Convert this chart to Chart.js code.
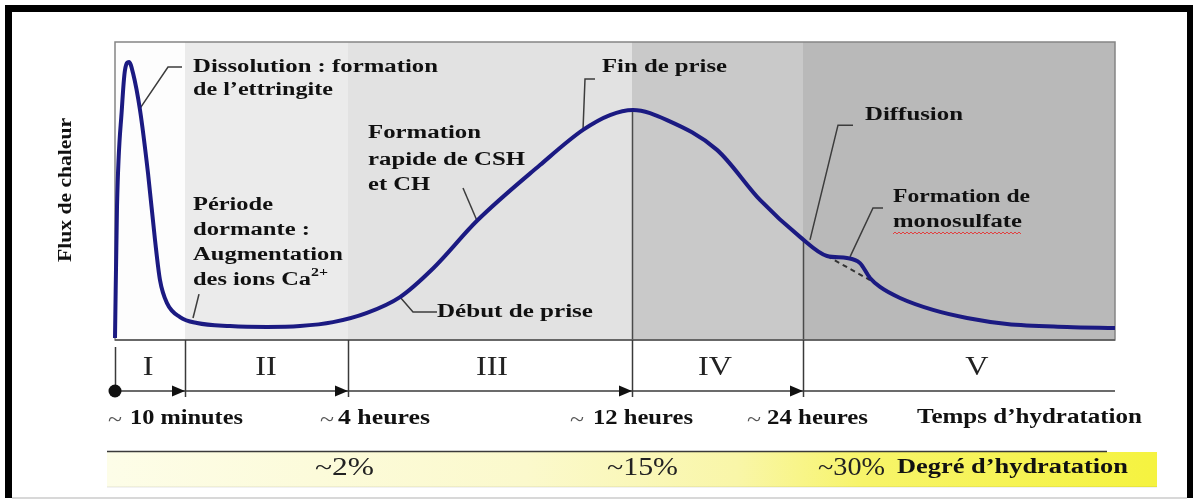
<!DOCTYPE html>
<html>
<head>
<meta charset="utf-8">
<title>Flux de chaleur - hydratation du ciment</title>
<script src="https://cdn.jsdelivr.net/npm/chart.js@4.4.0/dist/chart.umd.min.js"></script>
<style>
  html, body { margin: 0; padding: 0; background: #fff; overflow: hidden; }
  #wrap { position: relative; width: 1196px; height: 499px; }
</style>
</head>
<body>
<div id="wrap"><canvas id="heatChart" width="1196" height="499"></canvas></div>
<script>
// Heat flux curve (x: position along the time axis, 0..1000 ; y: relative flux, 0..100)
const fluxX = [0, 2, 7, 10, 14, 18, 25, 33, 40, 45, 52, 65, 82, 115, 152, 185, 218, 252, 285, 318,
  362, 425, 468, 495, 518, 552, 602, 645, 685, 712, 732, 745, 755, 765, 785, 818, 852, 892, 952, 1000];
const fluxY = [0.7, 44.6, 78.2, 90.6, 93.3, 89.6, 77.2, 56.0, 33.6, 20.1, 12.4, 7.7, 5.7, 4.7, 4.4, 4.7, 6.0, 9.1, 14.4, 24.0,
  40.0, 58.7, 70.5, 75.5, 77.2, 73.8, 63.8, 47.0, 34.6, 28.2, 27.5, 25.8, 20.8, 17.8, 14.1, 10.1, 7.4, 5.4, 4.4, 4.0];

// curve without the monosulfate bump (dashed)
const baseX = [712, 755];
const baseY = [28.2, 20.1];

// phases
const phaseEdges = [0, 70, 233, 517, 688, 1000];
const phaseLabels = ['I', 'II', 'III', 'IV', 'V'];
const phaseLabelX = [33, 151, 377, 600, 862];
const phaseColors = ['#fdfdfd', '#ebebeb', '#e2e2e2', '#c9c9c9', '#b9b9b9'];

// time and hydration degree labels
const timeLabels = ['10 minutes', '4 heures', '12 heures', '24 heures'];
const degreeLabels = ['~2%', '~15%', '~30%'];

// callout leader lines [x, y] in chart units
const leaders = [
  [[24, 77.2], [53, 91.6], [67, 91.6]],      // Dissolution
  [[78, 7.4], [84, 15.4]],                   // Periode dormante
  [[362, 40.0], [348, 51.0]],                // Formation rapide
  [[285, 14.4], [298, 9.4], [322, 9.4]],     // Debut de prise
  [[468, 70.5], [470, 87.6], [480, 87.6]],   // Fin de prise
  [[695, 33.6], [723, 72.1], [738, 72.1]],   // Diffusion
  [[735, 27.9], [758, 44.3], [768, 44.3]]    // Monosulfate
];

const SERIF = '"Liberation Serif", "Times New Roman", serif';

// text drawn stretched to a given width (the original picture is stretched horizontally)
function drawText(ctx, s, x, y, font, width, color) {
  ctx.save();
  ctx.font = font;
  ctx.fillStyle = color || '#111';
  ctx.textBaseline = 'middle';
  ctx.textAlign = 'left';
  const w = ctx.measureText(s).width;
  ctx.translate(x, y);
  if (width) ctx.scale(width / w, 1);
  ctx.fillText(s, 0, 0);
  ctx.restore();
}

const zonesPlugin = {
  id: 'zones',
  beforeDatasetsDraw(chart) {
    const { ctx, chartArea: a, scales: { x, y } } = chart;
    ctx.save();
    for (let i = 0; i < phaseLabels.length; i++) {
      const x0 = x.getPixelForValue(phaseEdges[i]);
      const x1 = x.getPixelForValue(phaseEdges[i + 1]);
      ctx.fillStyle = phaseColors[i];
      ctx.fillRect(x0, a.top, x1 - x0, a.bottom - a.top);
    }
    // dividers inside the plot (below the curve)
    ctx.strokeStyle = '#4a4a4a';
    ctx.lineWidth = 1.5;
    [[phaseEdges[3], 77], [phaseEdges[4], 33]].forEach(([v, top]) => {
      const px = Math.round(x.getPixelForValue(v)) + 0.5;
      ctx.beginPath();
      ctx.moveTo(px, y.getPixelForValue(top));
      ctx.lineTo(px, a.bottom);
      ctx.stroke();
    });
    // frame
    ctx.strokeStyle = '#858585';
    ctx.lineWidth = 1.5;
    ctx.strokeRect(a.left, a.top, a.right - a.left, a.bottom - a.top);
    ctx.strokeStyle = '#555';
    ctx.beginPath();
    ctx.moveTo(a.left, a.bottom);
    ctx.lineTo(a.right, a.bottom);
    ctx.stroke();
    ctx.restore();
  },
  afterDraw(chart) {
    const { ctx, chartArea: a, scales: { x } } = chart;
    ctx.save();

    // outer black frame
    ctx.fillStyle = '#000';
    ctx.fillRect(5, 5, 1188, 7);
    ctx.fillRect(5, 5, 7, 493);
    ctx.fillRect(1187, 5, 6, 493);
    ctx.fillStyle = '#d8d8d8';
    ctx.fillRect(12, 497, 1175, 2);

    // phase separators and time arrow
    const axisY = 391;
    ctx.strokeStyle = '#3a3a3a';
    ctx.lineWidth = 1.5;
    for (let i = 0; i < phaseEdges.length - 1; i++) {
      const px = Math.round(x.getPixelForValue(phaseEdges[i])) + 0.5;
      ctx.beginPath();
      ctx.moveTo(px, i === 0 ? a.bottom + 7 : a.bottom);
      ctx.lineTo(px, i === 0 ? axisY : axisY + 6);
      ctx.stroke();
    }
    ctx.beginPath();
    ctx.moveTo(x.getPixelForValue(0), axisY);
    ctx.lineTo(x.getPixelForValue(1000), axisY);
    ctx.stroke();
    ctx.fillStyle = '#111';
    for (let i = 1; i < phaseEdges.length - 1; i++) {
      const px = x.getPixelForValue(phaseEdges[i]);
      ctx.beginPath();
      ctx.moveTo(px, axisY);
      ctx.lineTo(px - 13, axisY - 5.5);
      ctx.lineTo(px - 13, axisY + 5.5);
      ctx.closePath();
      ctx.fill();
    }
    ctx.beginPath();
    ctx.arc(x.getPixelForValue(0), axisY, 6.5, 0, Math.PI * 2);
    ctx.fill();

    // roman phase labels
    phaseLabels.forEach((s, i) => {
      ctx.font = '28px ' + SERIF;
      const w = ctx.measureText(s).width * 1.15;
      drawText(ctx, s, x.getPixelForValue(phaseLabelX[i]) - w / 2, 368, '28px ' + SERIF, w, '#222');
    });

    // time labels
    const timePos = [[108, 130, 243], [320, 338, 430], [570, 593, 693], [747, 767, 868]];
    timeLabels.forEach((s, i) => {
      const [tx, lx, rx] = timePos[i];
      drawText(ctx, '~', tx, 421, '20px ' + SERIF, 14, '#555');
      drawText(ctx, s, lx, 419, 'bold 20px ' + SERIF, rx - lx);
    });
    drawText(ctx, 'Temps d\u2019hydratation', 917, 418, 'bold 20px ' + SERIF, 225);

    // hydration degree band
    const g = ctx.createLinearGradient(107, 0, 1157, 0);
    g.addColorStop(0, '#fdfde8');
    g.addColorStop(0.4, '#fbf9cc');
    g.addColorStop(0.6, '#f9f6a8');
    g.addColorStop(0.72, '#f7f46a');
    g.addColorStop(1, '#f5f340');
    ctx.fillStyle = g;
    ctx.fillRect(107, 452, 1050, 35);
    ctx.fillStyle = 'rgba(0,0,0,0.05)';
    ctx.fillRect(107, 486, 1050, 2);
    ctx.strokeStyle = '#3a3a3a';
    ctx.lineWidth = 1.5;
    ctx.beginPath();
    ctx.moveTo(107, 451.5);
    ctx.lineTo(1107, 451.5);
    ctx.stroke();
    const degPos = [[315, 374], [607, 678], [818, 885]];
    degreeLabels.forEach((s, i) => {
      drawText(ctx, s, degPos[i][0], 468, '25px ' + SERIF, degPos[i][1] - degPos[i][0], '#222');
    });
    drawText(ctx, 'Degr\u00e9 d\u2019hydratation', 897, 468, 'bold 20px ' + SERIF, 231);

    // y axis title
    ctx.save();
    ctx.translate(66, 190);
    ctx.rotate(-Math.PI / 2);
    drawText(ctx, 'Flux de chaleur', -72, 0, 'bold 19px ' + SERIF, 144);
    ctx.restore();

    // callout texts
    const F = 'bold 18px ' + SERIF;
    drawText(ctx, 'Dissolution : formation', 193, 67, F, 245);
    drawText(ctx, 'de l\u2019ettringite', 193, 90, F, 140);
    drawText(ctx, 'P\u00e9riode', 193, 205, F, 80);
    drawText(ctx, 'dormante :', 193, 230, F, 117);
    drawText(ctx, 'Augmentation', 193, 255, F, 150);
    drawText(ctx, 'des ions Ca', 193, 280, F, 118);
    drawText(ctx, '2+', 311, 273, 'bold 12px ' + SERIF, 17);
    drawText(ctx, 'Formation', 368, 133, F, 113);
    drawText(ctx, 'rapide de CSH', 368, 160, F, 157);
    drawText(ctx, 'et CH', 368, 185, F, 62);
    drawText(ctx, 'D\u00e9but de prise', 437, 312, F, 156);
    drawText(ctx, 'Fin de prise', 602, 67, F, 125);
    drawText(ctx, 'Diffusion', 865, 115, F, 98);
    drawText(ctx, 'Formation de', 893, 197, F, 137);
    drawText(ctx, 'monosulfate', 893, 222, F, 129);

    // spell-check squiggle under "monosulfate"
    ctx.strokeStyle = '#e04040';
    ctx.lineWidth = 1;
    ctx.beginPath();
    for (let px = 893, k = 0; px <= 1022; px += 2, k++) {
      const py = 233 + (k % 2 ? -1 : 1);
      if (k === 0) ctx.moveTo(px, py); else ctx.lineTo(px, py);
    }
    ctx.stroke();
    ctx.restore();
  }
};

const leaderSets = leaders.map(pts => ({
  data: pts.map(p => ({ x: p[0], y: p[1] })),
  borderColor: '#3c3c3c',
  borderWidth: 1.5,
  pointRadius: 0,
  tension: 0,
  clip: 2
}));

const ctx = document.getElementById('heatChart').getContext('2d');
const heatChart = new Chart(ctx, {
  type: 'line',
  data: {
    datasets: [
      {
        label: 'Flux de chaleur',
        data: fluxX.map((v, i) => ({ x: v, y: fluxY[i] })),
        borderColor: '#1b1a82',
        borderWidth: 4,
        pointRadius: 0,
        cubicInterpolationMode: 'monotone',
        clip: 5
      },
      {
        label: 'sans monosulfate',
        data: baseX.map((v, i) => ({ x: v, y: baseY[i] })),
        borderColor: '#333',
        borderWidth: 2,
        borderDash: [5, 4],
        pointRadius: 0,
        tension: 0
      },
      ...leaderSets
    ]
  },
  options: {
    responsive: false,
    animation: false,
    devicePixelRatio: 1,
    layout: { padding: { left: 115, right: 81, top: 42, bottom: 159 } },
    plugins: {
      legend: { display: false },
      tooltip: { enabled: false }
    },
    scales: {
      x: { type: 'linear', min: 0, max: 1000, display: false },
      y: { min: 0, max: 100, display: false }
    }
  },
  plugins: [zonesPlugin]
});
</script>
</body>
</html>
